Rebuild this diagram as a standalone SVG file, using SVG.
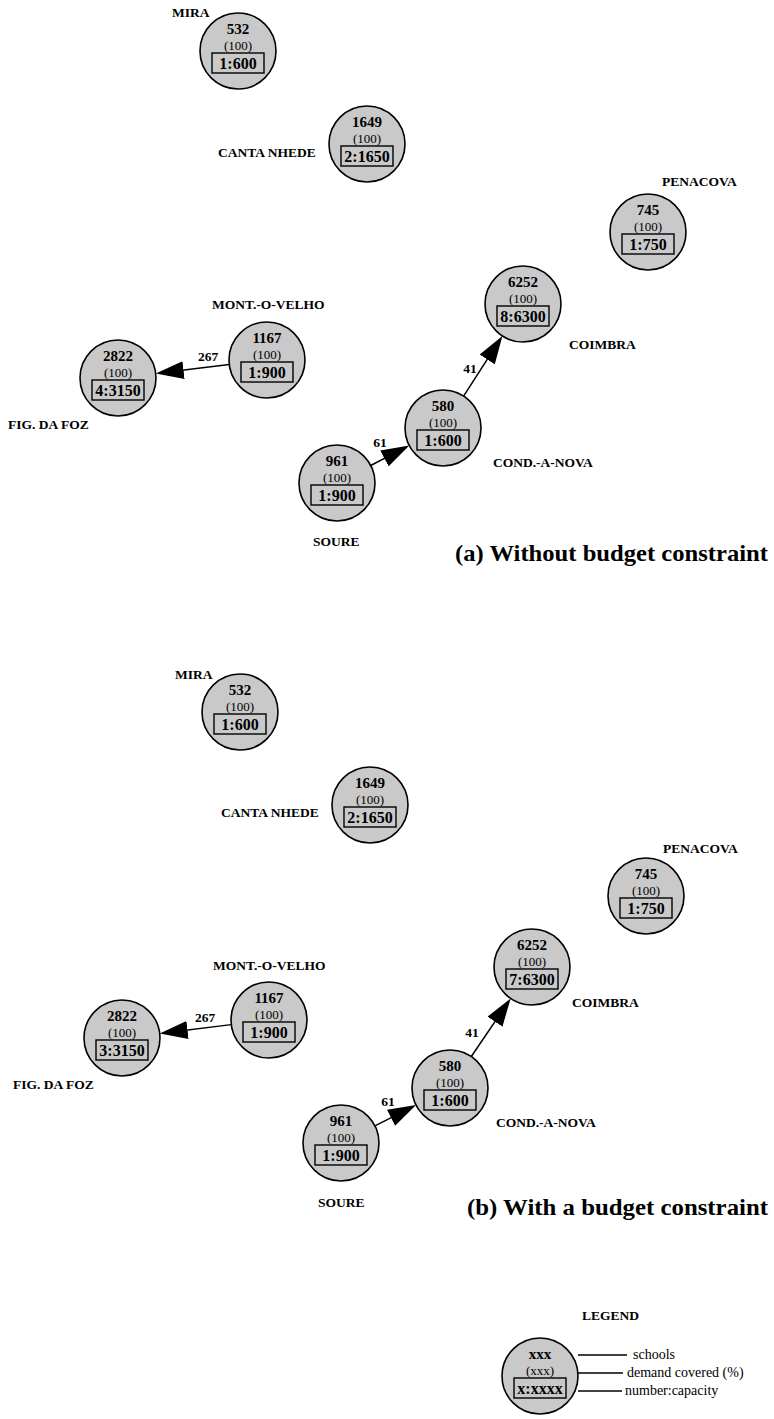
<svg xmlns="http://www.w3.org/2000/svg" width="774" height="1419" viewBox="0 0 774 1419">
<defs>
<style>
text{font-family:"Liberation Serif","Times New Roman",serif;fill:#000}
.nd circle{fill:#c9c9c9;stroke:#000;stroke-width:1.6}
.nd rect{fill:#c9c9c9;stroke:#000;stroke-width:1.4}
.num{font-size:15px;font-weight:bold;text-anchor:middle}
.pct{font-size:13px;text-anchor:middle}
.cap{font-size:16px;font-weight:bold;text-anchor:middle}
.lbl{font-size:13.5px;font-weight:bold}
.el{font-size:13.5px;font-weight:bold;text-anchor:middle}
.title{font-size:24px;font-weight:bold}
.leg{font-size:14px}
.edge line{stroke:#000;stroke-width:1.5;marker-end:url(#arr)}
.legline{stroke:#000;stroke-width:1.5}
</style>
<marker id="arr" markerUnits="userSpaceOnUse" markerWidth="30" markerHeight="18" refX="14" refY="9" orient="auto">
<path d="M0,0 L28,9 L0,18 Z" fill="#000"/>
</marker>
</defs>
<rect width="774" height="1419" fill="#fff"/>

<!-- (a) Without budget constraint -->
<g id="a-mira" class="nd" transform="translate(238,51)">
<circle r="38"/><text class="num" y="-17">532</text><text class="pct" y="-1.5">(100)</text>
<rect x="-26" y="2" width="52" height="20"/><text class="cap" y="17.5">1:600</text></g>
<g id="a-cantanhede" class="nd" transform="translate(367,144)">
<circle r="38"/><text class="num" y="-17">1649</text><text class="pct" y="-1.5">(100)</text>
<rect x="-26" y="2" width="52" height="20"/><text class="cap" y="17.5">2:1650</text></g>
<g id="a-penacova" class="nd" transform="translate(648,232)">
<circle r="38"/><text class="num" y="-17">745</text><text class="pct" y="-1.5">(100)</text>
<rect x="-26" y="2" width="52" height="20"/><text class="cap" y="17.5">1:750</text></g>
<g id="a-coimbra" class="nd" transform="translate(523,304)">
<circle r="38"/><text class="num" y="-17">6252</text><text class="pct" y="-1.5">(100)</text>
<rect x="-26" y="2" width="52" height="20"/><text class="cap" y="17.5">8:6300</text></g>
<g id="a-mont" class="nd" transform="translate(267,360)">
<circle r="38"/><text class="num" y="-17">1167</text><text class="pct" y="-1.5">(100)</text>
<rect x="-26" y="2" width="52" height="20"/><text class="cap" y="17.5">1:900</text></g>
<g id="a-figfoz" class="nd" transform="translate(118,378)">
<circle r="38"/><text class="num" y="-17">2822</text><text class="pct" y="-1.5">(100)</text>
<rect x="-26" y="2" width="52" height="20"/><text class="cap" y="17.5">4:3150</text></g>
<g id="a-cond" class="nd" transform="translate(443,428)">
<circle r="38"/><text class="num" y="-17">580</text><text class="pct" y="-1.5">(100)</text>
<rect x="-26" y="2" width="52" height="20"/><text class="cap" y="17.5">1:600</text></g>
<g id="a-soure" class="nd" transform="translate(337,483)">
<circle r="38"/><text class="num" y="-17">961</text><text class="pct" y="-1.5">(100)</text>
<rect x="-26" y="2" width="52" height="20"/><text class="cap" y="17.5">1:900</text></g>

<g id="a-labels">
<text class="lbl" x="172" y="17">MIRA</text>
<text class="lbl" x="218" y="157">CANTA NHEDE</text>
<text class="lbl" x="662" y="186">PENACOVA</text>
<text class="lbl" x="212" y="309">MONT.-O-VELHO</text>
<text class="lbl" x="569" y="349">COIMBRA</text>
<text class="lbl" x="8" y="429">FIG. DA FOZ</text>
<text class="lbl" x="493" y="467">COND.-A-NOVA</text>
<text class="lbl" x="313" y="546">SOURE</text>
</g>

<g id="a-connectors" class="edge">
<line x1="229.27" y1="364.56" x2="169.63" y2="371.76"/>
<line x1="370.73" y1="465.50" x2="396.84" y2="451.95"/>
<line x1="463.60" y1="396.07" x2="494.81" y2="347.69"/>
<text class="el" x="208" y="361">267</text>
<text class="el" x="380" y="447">61</text>
<text class="el" x="470" y="373">41</text>
</g>

<text class="title" x="455" y="561" textLength="313" lengthAdjust="spacingAndGlyphs">(a) Without budget constraint</text>

<!-- (b) With a budget constraint -->
<g id="b-mira" class="nd" transform="translate(240,712)">
<circle r="38"/><text class="num" y="-17">532</text><text class="pct" y="-1.5">(100)</text>
<rect x="-26" y="2" width="52" height="20"/><text class="cap" y="17.5">1:600</text></g>
<g id="b-cantanhede" class="nd" transform="translate(370,805)">
<circle r="38"/><text class="num" y="-17">1649</text><text class="pct" y="-1.5">(100)</text>
<rect x="-26" y="2" width="52" height="20"/><text class="cap" y="17.5">2:1650</text></g>
<g id="b-penacova" class="nd" transform="translate(646,896)">
<circle r="38"/><text class="num" y="-17">745</text><text class="pct" y="-1.5">(100)</text>
<rect x="-26" y="2" width="52" height="20"/><text class="cap" y="17.5">1:750</text></g>
<g id="b-coimbra" class="nd" transform="translate(532,967)">
<circle r="38"/><text class="num" y="-17">6252</text><text class="pct" y="-1.5">(100)</text>
<rect x="-26" y="2" width="52" height="20"/><text class="cap" y="17.5">7:6300</text></g>
<g id="b-mont" class="nd" transform="translate(269,1020)">
<circle r="38"/><text class="num" y="-17">1167</text><text class="pct" y="-1.5">(100)</text>
<rect x="-26" y="2" width="52" height="20"/><text class="cap" y="17.5">1:900</text></g>
<g id="b-figfoz" class="nd" transform="translate(122,1038)">
<circle r="38"/><text class="num" y="-17">2822</text><text class="pct" y="-1.5">(100)</text>
<rect x="-26" y="2" width="52" height="20"/><text class="cap" y="17.5">3:3150</text></g>
<g id="b-cond" class="nd" transform="translate(450,1088)">
<circle r="38"/><text class="num" y="-17">580</text><text class="pct" y="-1.5">(100)</text>
<rect x="-26" y="2" width="52" height="20"/><text class="cap" y="17.5">1:600</text></g>
<g id="b-soure" class="nd" transform="translate(341,1143)">
<circle r="38"/><text class="num" y="-17">961</text><text class="pct" y="-1.5">(100)</text>
<rect x="-26" y="2" width="52" height="20"/><text class="cap" y="17.5">1:900</text></g>

<g id="b-labels">
<text class="lbl" x="175" y="679">MIRA</text>
<text class="lbl" x="221" y="817">CANTA NHEDE</text>
<text class="lbl" x="663" y="853">PENACOVA</text>
<text class="lbl" x="213" y="970">MONT.-O-VELHO</text>
<text class="lbl" x="572" y="1007">COIMBRA</text>
<text class="lbl" x="13" y="1089">FIG. DA FOZ</text>
<text class="lbl" x="496" y="1127">COND.-A-NOVA</text>
<text class="lbl" x="318" y="1207">SOURE</text>
</g>

<g id="b-connectors" class="edge">
<line x1="231.28" y1="1024.62" x2="173.62" y2="1031.68"/>
<line x1="374.93" y1="1125.88" x2="403.57" y2="1111.43"/>
<line x1="471.32" y1="1056.54" x2="502.83" y2="1010.05"/>
<text class="el" x="205" y="1022">267</text>
<text class="el" x="388" y="1106">61</text>
<text class="el" x="472" y="1037">41</text>
</g>

<text class="title" x="467" y="1215" textLength="301" lengthAdjust="spacingAndGlyphs">(b) With a budget constraint</text>

<!-- Legend -->
<g id="legend">
<text class="lbl" x="582" y="1320">LEGEND</text>
<g id="legend-node" class="nd" transform="translate(540,1376)">
<circle r="38"/><text class="num" y="-17">xxx</text><text class="pct" y="-1.5">(xxx)</text>
<rect x="-26" y="2" width="52" height="20"/><text class="cap" y="17.5">x:xxxx</text></g>
<line class="legline" x1="578" y1="1355" x2="627" y2="1355"/>
<line class="legline" x1="577" y1="1373" x2="623" y2="1373"/>
<line class="legline" x1="578" y1="1391" x2="622" y2="1391"/>
<text class="leg" x="633" y="1359">schools</text>
<text class="leg" x="627" y="1377">demand covered (%)</text>
<text class="leg" x="625" y="1395">number:capacity</text>
</g>
</svg>
